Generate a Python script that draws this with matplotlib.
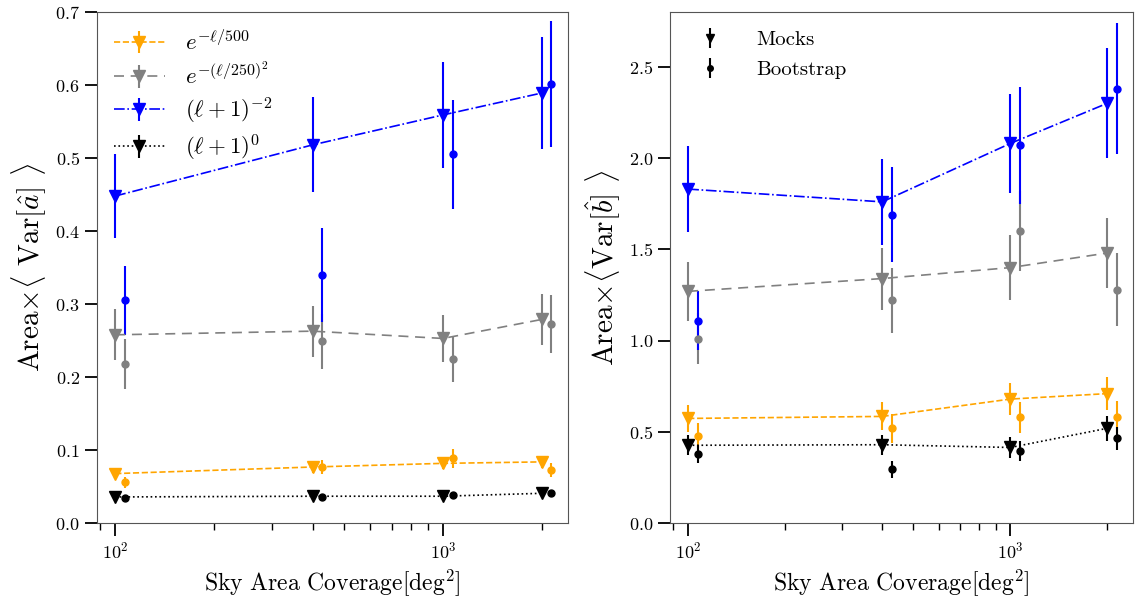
import numpy as np
import matplotlib
matplotlib.use('Agg')
import matplotlib.pyplot as plt

plt.rcParams['font.family'] = 'serif'
plt.rcParams['font.serif'] = ['cmr10', 'DejaVu Serif']
plt.rcParams['mathtext.fontset'] = 'cm'
plt.rcParams['axes.formatter.use_mathtext'] = True
plt.rcParams['axes.unicode_minus'] = False

# Sky area coverage [deg^2]
area = np.array([100, 400, 1000, 2000])
boot_shift = 1.07

labels = [r'$e^{-\ell/500}$', r'$e^{-(\ell/250)^2}$', r'$(\ell+1)^{-2}$', r'$(\ell+1)^{0}$']
colors = ['orange', 'grey', 'blue', 'black']
styles = ['--', (0, (6, 4)), '-.', ':']

# left panel: Area x <Var[a]>
a_mock = [[0.068, 0.077, 0.082, 0.084],
          [0.258, 0.263, 0.253, 0.279],
          [0.448, 0.518, 0.559, 0.589],
          [0.036, 0.037, 0.037, 0.041]]
a_mock_err = [[0.008, 0.008, 0.008, 0.008],
              [0.035, 0.035, 0.032, 0.035],
              [0.058, 0.065, 0.073, 0.077],
              [0.003, 0.003, 0.003, 0.003]]
a_boot = [[0.056, 0.077, 0.089, 0.073],
          [0.218, 0.249, 0.225, 0.273],
          [0.305, 0.340, 0.505, 0.601],
          [0.035, 0.036, 0.038, 0.041]]
a_boot_err = [[0.008, 0.010, 0.013, 0.010],
              [0.034, 0.038, 0.032, 0.040],
              [0.047, 0.064, 0.075, 0.086],
              [0.003, 0.003, 0.003, 0.003]]

# right panel: Area x <Var[b]>
b_mock = [[0.574, 0.585, 0.680, 0.710],
          [1.27, 1.34, 1.40, 1.48],
          [1.83, 1.76, 2.08, 2.30],
          [0.427, 0.430, 0.415, 0.520]]
b_mock_err = [[0.072, 0.077, 0.087, 0.090],
              [0.16, 0.17, 0.18, 0.19],
              [0.235, 0.235, 0.27, 0.30],
              [0.055, 0.055, 0.055, 0.070]]
b_boot = [[0.480, 0.520, 0.580, 0.580],
          [1.01, 1.22, 1.60, 1.28],
          [1.11, 1.69, 2.07, 2.38],
          [0.380, 0.295, 0.395, 0.465]]
b_boot_err = [[0.070, 0.080, 0.085, 0.087],
              [0.14, 0.18, 0.22, 0.20],
              [0.16, 0.26, 0.32, 0.36],
              [0.050, 0.045, 0.055, 0.063]]

fig = plt.figure(figsize=(11.42, 5.98), dpi=100)
ax1 = fig.add_axes([0.085, 0.125, 0.412, 0.855])
ax2 = fig.add_axes([0.587, 0.125, 0.405, 0.855])


def draw(ax, mock, mock_err, boot, boot_err):
    for i in range(4):
        ax.errorbar(area, mock[i], yerr=mock_err[i], color=colors[i], ls=styles[i],
                    marker='v', ms=8, lw=1.2, elinewidth=1.5, capsize=0, label=labels[i])
        ax.errorbar(area * boot_shift, boot[i], yerr=boot_err[i], color=colors[i], ls='none',
                    marker='o', ms=5, elinewidth=1.5, capsize=0)
    ax.set_xscale('log')
    ax.set_xlim(88, 2400)
    ax.set_xlabel(r'Sky Area Coverage$[\mathrm{deg}^2]$', fontsize=17)
    ax.tick_params(which='major', direction='out', length=9, width=1.3, labelsize=13)
    ax.tick_params(which='minor', direction='out', length=5, width=1)
    for s in ax.spines.values():
        s.set_color('#555555')


draw(ax1, a_mock, a_mock_err, a_boot, a_boot_err)
ax1.set_ylim(0, 0.7)
ax1.set_ylabel(r'Area$\times\langle$ Var$[\hat{a}]$ $\rangle$', fontsize=21)
ax1.legend(loc='upper left', frameon=False, fontsize=16.5, handlelength=2.2,
           handletextpad=0.9, labelspacing=0.3, borderaxespad=0.35)

draw(ax2, b_mock, b_mock_err, b_boot, b_boot_err)
ax2.set_ylim(0, 2.8)
ax2.set_yticks([0, 0.5, 1.0, 1.5, 2.0, 2.5])
ax2.set_ylabel(r'Area$\times\langle$Var$[\hat{b}]$ $\rangle$', fontsize=21)

h1 = ax2.errorbar([], [], yerr=[], color='black', ls='none', marker='v', ms=6,
                  elinewidth=1.5, capsize=0)
h2 = ax2.errorbar([], [], yerr=[], color='black', ls='none', marker='o', ms=4,
                  elinewidth=1.5, capsize=0)
ax2.legend([h1, h2], ['Mocks', 'Bootstrap'], loc='upper left', frameon=False,
           fontsize=15, bbox_to_anchor=(0.0, 1.0), handlelength=2.0,
           handletextpad=1.2, labelspacing=0.55)

fig.savefig('out.png', dpi=100)
